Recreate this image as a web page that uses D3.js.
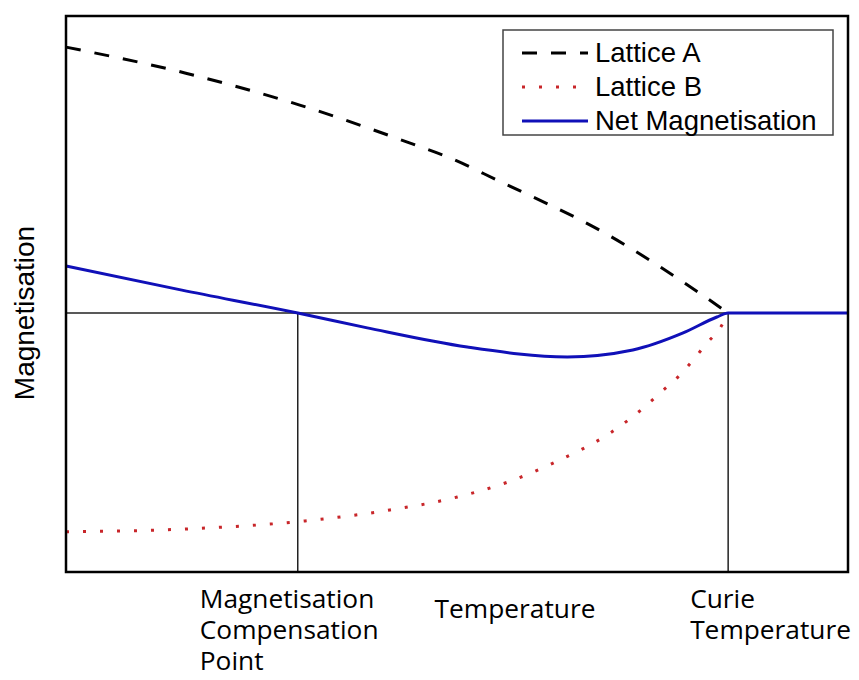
<!DOCTYPE html>
<html>
<head>
<meta charset="utf-8">
<script src="https://cdn.jsdelivr.net/npm/d3@7"></script>
<style>
  body { margin: 0; background: #fff; }
  svg { display: block; }
</style>
</head>
<body>
<svg id="chart" width="859" height="680"></svg>
<script>
// reduced temperature T/Tc and magnetisation (Lattice A at T=0 is 1)
var latticeA_T = [0, 0.181, 0.353, 0.524, 0.580, 0.651, 0.822, 0.952, 1.0]
var latticeA_M = [1.0, 0.902, 0.782, 0.635, 0.583, 0.500, 0.289, 0.083, 0]

var latticeB_T = [0, 0.183, 0.361, 0.489, 0.591, 0.668, 0.743, 0.822, 0.872, 0.897, 0.924, 0.947, 0.968, 0.988, 1.0]
var latticeB_M = [-0.823, -0.812, -0.782, -0.741, -0.692, -0.635, -0.556, -0.451, -0.357, -0.301, -0.241, -0.177, -0.113, -0.056, 0]

var net_T = [0, 0.175, 0.35, 0.455, 0.606, 0.757, 0.856, 0.932, 0.983, 1.0, 1.181]
var net_M = [0.177, 0.086, 0, -0.056, -0.128, -0.165, -0.139, -0.075, -0.015, 0, 0]

var compensationT = 0.35
var curieT = 1.0

var legendLabels = ["Lattice A", "Lattice B", "Net Magnetisation"]

var svg = d3.select("#chart")
var plotLeft = 66, plotRight = 848, plotTop = 16, plotBottom = 572

var x = d3.scaleLinear().domain([0, 1.181]).range([plotLeft, plotRight])
var y = d3.scaleLinear().domain([-0.974, 1.117]).range([plotBottom, plotTop])

var line = d3.line()
  .x(d => x(d[0]))
  .y(d => y(d[1]))
  .curve(d3.curveMonotoneX)

var zip = (a, b) => a.map((v, i) => [v, b[i]])

// zero line and marker lines
svg.append("line")
  .attr("x1", x(0)).attr("x2", x(1.181))
  .attr("y1", y(0)).attr("y2", y(0))
  .attr("stroke", "#222").attr("stroke-width", 1.5)

;[compensationT, curieT].forEach(t => {
  svg.append("line")
    .attr("x1", x(t)).attr("x2", x(t))
    .attr("y1", y(0)).attr("y2", plotBottom)
    .attr("stroke", "#222").attr("stroke-width", 1.5)
})

svg.append("path")
  .datum(zip(latticeA_T, latticeA_M))
  .attr("d", line)
  .attr("fill", "none")
  .attr("stroke", "#000")
  .attr("stroke-width", 3)
  .attr("stroke-dasharray", "15,14")

svg.append("path")
  .datum(zip(latticeB_T, latticeB_M))
  .attr("d", line)
  .attr("fill", "none")
  .attr("stroke", "#c8262a")
  .attr("stroke-width", 3)
  .attr("stroke-dasharray", "3,14")

svg.append("path")
  .datum(zip(net_T, net_M))
  .attr("d", line)
  .attr("fill", "none")
  .attr("stroke", "#1010b8")
  .attr("stroke-width", 3)

// frame
svg.append("rect")
  .attr("x", plotLeft).attr("y", plotTop)
  .attr("width", plotRight - plotLeft).attr("height", plotBottom - plotTop)
  .attr("fill", "none")
  .attr("stroke", "#000")
  .attr("stroke-width", 2.5)

// legend
var lg = svg.append("g").attr("transform", "translate(503,30)")
lg.append("rect")
  .attr("width", 330).attr("height", 105)
  .attr("fill", "#fff")
  .attr("stroke", "#444").attr("stroke-width", 1.5)

var styles = [
  {stroke: "#000", dash: "15,14"},
  {stroke: "#c8262a", dash: "3,14"},
  {stroke: "#1010b8", dash: null}
]
legendLabels.forEach((lab, i) => {
  var ly = 23 + i * 34
  lg.append("line")
    .attr("x1", 19).attr("x2", 85)
    .attr("y1", ly).attr("y2", ly)
    .attr("stroke", styles[i].stroke)
    .attr("stroke-width", 3)
    .attr("stroke-dasharray", styles[i].dash)
  lg.append("text")
    .attr("x", 92).attr("y", ly + 9)
    .attr("font-family", "Liberation Sans, Arial, sans-serif")
    .attr("font-size", 27.5)
    .attr("fill", "#000")
    .text(lab)
})

// y label
svg.append("text")
  .attr("transform", "translate(34," + 313 + ") rotate(-90)")
  .attr("text-anchor", "middle")
  .attr("font-family", "Liberation Sans, Arial, sans-serif")
  .attr("font-size", 28)
  .text("Magnetisation")

// bottom labels
var bfont = "'Open Sans', sans-serif"
var compLines = ["Magnetisation", "Compensation", "Point"]
compLines.forEach((t, i) => {
  svg.append("text")
    .attr("x", x(compensationT) - 98).attr("y", 608 + i * 31)
    .attr("font-family", bfont).attr("font-size", 26.3)
    .text(t)
})
svg.append("text")
  .attr("x", 515).attr("y", 618)
  .attr("text-anchor", "middle")
  .attr("font-family", bfont).attr("font-size", 26.3)
  .text("Temperature")
var curieLines = ["Curie", "Temperature"]
curieLines.forEach((t, i) => {
  svg.append("text")
    .attr("x", x(curieT) - 38).attr("y", 608 + i * 31)
    .attr("font-family", bfont).attr("font-size", 26.3)
    .text(t)
})
</script>
</body>
</html>
